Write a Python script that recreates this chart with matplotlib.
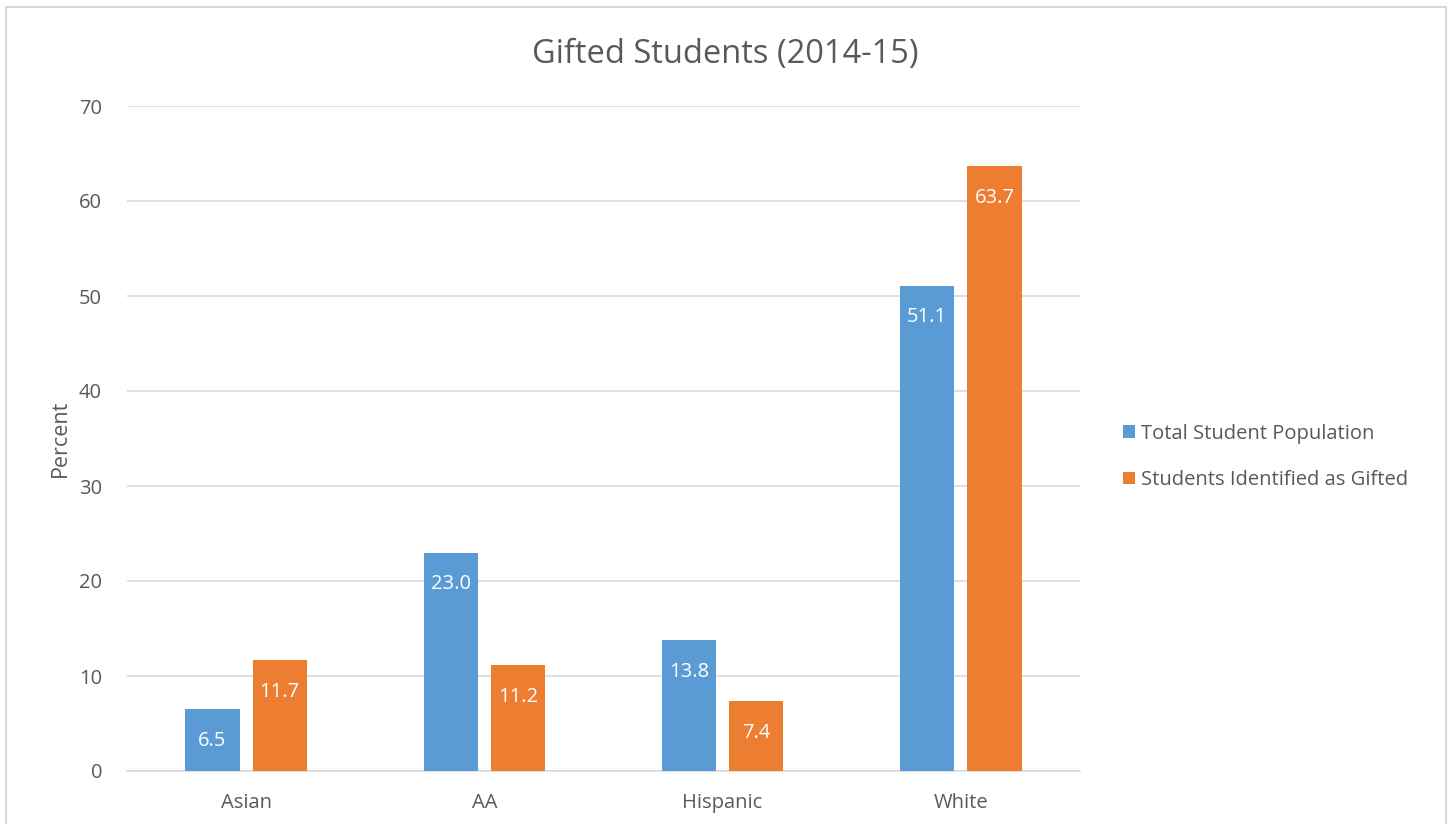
import matplotlib
matplotlib.use("Agg")
import matplotlib.pyplot as plt
import numpy as np
from matplotlib.patches import Rectangle

categories = ["Asian", "AA", "Hispanic", "White"]
total_population = [6.5, 23.0, 13.8, 51.1]
gifted = [11.7, 11.2, 7.4, 63.7]
series_names = ["Total Student Population", "Students Identified as Gifted"]
yticks = [0, 10, 20, 30, 40, 50, 60, 70]

BLUE = "#5B9BD5"
ORANGE = "#ED7D31"
TEXT = "#595959"
GRID = "#D9D9D9"

plt.rcParams['font.family'] = ['Open Sans', 'DejaVu Sans']

fig = plt.figure(figsize=(14.52, 8.24), dpi=100)
ax = fig.add_axes([127/1452, 1 - 771/824, (1080-127)/1452, (771-106)/824])

x = np.arange(len(categories))
w = 0.227
off = 0.141
b1 = ax.bar(x - off, total_population, w, color=BLUE, label=series_names[0], zorder=3)
b2 = ax.bar(x + off, gifted, w, color=ORANGE, label=series_names[1], zorder=3)

for bars, vals in ((b1, total_population), (b2, gifted)):
    for r, v in zip(bars, vals):
        ax.annotate(f"{v:.1f}", (r.get_x() + r.get_width()/2, v), xytext=(0, -23),
                    textcoords="offset points", ha="center", va="center",
                    color="white", fontsize=14.5, zorder=4)

ax.set_xlim(-0.5, len(categories) - 0.5)
ax.set_ylim(0, 70)
ax.set_yticks(yticks)
ax.set_xticks(x)
ax.set_xticklabels(categories)
ax.yaxis.grid(True, color=GRID, linewidth=1.2, zorder=0)
ax.set_axisbelow(True)
for s in ["top", "right", "left"]:
    ax.spines[s].set_visible(False)
ax.spines["bottom"].set_color(GRID)
ax.spines["bottom"].set_linewidth(1.2)
ax.tick_params(axis="both", length=0, colors=TEXT, labelsize=14.5)
ax.tick_params(axis="y", pad=18)
ax.tick_params(axis="x", pad=16)

ax.set_ylabel("Percent", color=TEXT, fontsize=15.5, labelpad=6)
fig.text(725/1452, 1 - 55/824, "Gifted Students (2014-15)", ha="center", va="center",
         fontsize=23.5, color=TEXT)

leg = fig.legend(handles=[b1, b2], labels=series_names, loc="center left",
                 bbox_to_anchor=(1105/1452, 1 - 457/824), frameon=False,
                 fontsize=14.5, handlelength=0.6, handleheight=0.6,
                 handletextpad=0.3, labelspacing=1.3, labelcolor=TEXT)

fig.patches.append(Rectangle((6/1452, -0.01), (1446-6)/1452, (1 - 7/824) + 0.01,
                             transform=fig.transFigure, fill=False,
                             edgecolor="#D9D9D9", linewidth=1.5))

fig.savefig("out.png", dpi=100)
